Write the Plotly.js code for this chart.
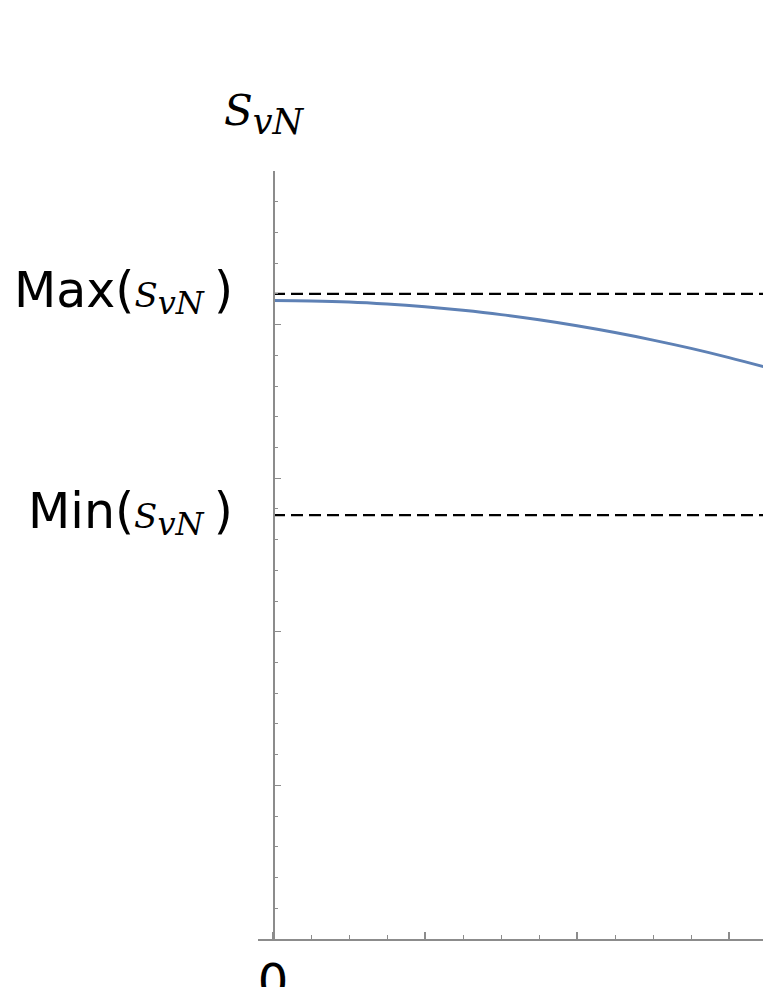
<!DOCTYPE html>
<html>
<head>
<meta charset="utf-8">
<script src="https://cdn.plot.ly/plotly-3.0.1.min.js"></script>
<style>html,body{margin:0;padding:0;background:#fff;}</style>
</head>
<body>
<div id="chart" style="width:763px;height:987px;"></div>
<script>
// Curve values
var curveX = [0, 0.25, 0.5, 0.75, 1.0, 1.25, 1.5, 1.75, 2.0, 2.25, 2.5, 2.75, 3.0, 3.25];
var curveY = [4.157, 4.154, 4.147, 4.134, 4.116, 4.093, 4.065, 4.031, 3.992, 3.948, 3.899, 3.845, 3.785, 3.72];
// Reference levels
var maxLevel = 4.20;
var minLevel = 2.76;
var levelX = [0, 3.4];
// Tick labels
var xTickVals = [0, 1, 2, 3];
var xTickText = ['0', '', '', ''];

var W = 763, H = 987;
var mL = 258, mR = 0, mT = 171, mB = 48;
var xRange = [-0.0987, 3.2237];
var yRange = [0, 5];
var plotW = W - mL - mR, plotH = H - mT - mB;
function px2paperX(px){ return (px - mL) / plotW; }
function px2paperY(py){ return (H - mB - py) / plotH; }

var axisGray = '#8c8c8c';
var mathFont = 'DejaVu Serif,serif';
var mathText = function(size, subSize, tail){
  return '<span style="font-family:' + mathFont + ';font-size:' + size + 'px"><i>S</i><sub><span style="font-size:' + subSize + 'px"><i>vN</i>' + (tail || '') + '</span></sub></span>';
};

var traces = [
  {x: levelX, y: [maxLevel, maxLevel], mode: 'lines', line: {color: '#000', width: 2.2, dash: '12px,6px'}, hoverinfo: 'skip'},
  {x: levelX, y: [minLevel, minLevel], mode: 'lines', line: {color: '#000', width: 2.2, dash: '12px,6px'}, hoverinfo: 'skip'},
  {x: curveX, y: curveY, mode: 'lines', line: {color: '#5E81B5', width: 3, shape: 'spline'}, hoverinfo: 'skip'}
];

var layout = {
  width: W, height: H,
  margin: {l: mL, r: mR, t: mT, b: mB, pad: 0},
  paper_bgcolor: '#fff', plot_bgcolor: 'rgba(0,0,0,0)',
  showlegend: false,
  font: {family: 'DejaVu Sans', color: '#000'},
  xaxis: {
    range: xRange, showgrid: false, zeroline: false,
    showline: true, linecolor: axisGray, linewidth: 1.5,
    tickmode: 'array', tickvals: xTickVals, ticktext: xTickText,
    ticks: 'inside', ticklen: 7, tickwidth: 1.2, tickcolor: axisGray,
    tickfont: {family: 'DejaVu Sans', size: 48, color: '#000'},
    minor: {tickmode: 'linear', tick0: 0, dtick: 0.25, ticks: 'inside', ticklen: 4, tickwidth: 1, tickcolor: axisGray, showgrid: false}
  },
  yaxis: {
    range: yRange, showgrid: false, zeroline: false,
    anchor: 'free', position: (0 - xRange[0]) / (xRange[1] - xRange[0]),
    showline: true, linecolor: axisGray, linewidth: 1.5,
    tickmode: 'linear', tick0: 0, dtick: 1,
    ticks: 'inside', ticklen: 6, tickwidth: 1, tickcolor: axisGray,
    showticklabels: false,
    minor: {tickmode: 'linear', tick0: 0, dtick: 0.2, ticks: 'inside', ticklen: 3, tickwidth: 1, tickcolor: axisGray, showgrid: false}
  },
  annotations: [
    {xref: 'paper', yref: 'paper', x: px2paperX(264), y: px2paperY(114), xanchor: 'center', yanchor: 'middle',
     showarrow: false, text: mathText(42, 35),
     font: {family: mathFont, size: 42, color: '#000'}},
    {xref: 'paper', yref: 'y', x: px2paperX(235), y: maxLevel, yshift: 2, xanchor: 'right', yanchor: 'middle',
     showarrow: false, text: 'Max(' + mathText(34, 32, '\u00A0') + ')',
     font: {family: 'DejaVu Sans', size: 49, color: '#000'}},
    {xref: 'paper', yref: 'y', x: px2paperX(235), y: minLevel, yshift: 2, xanchor: 'right', yanchor: 'middle',
     showarrow: false, text: 'Min(' + mathText(34, 32, '\u00A0') + ')',
     font: {family: 'DejaVu Sans', size: 49, color: '#000'}}
  ]
};

Plotly.newPlot('chart', traces, layout, {staticPlot: true, displayModeBar: false});
</script>
</body>
</html>
